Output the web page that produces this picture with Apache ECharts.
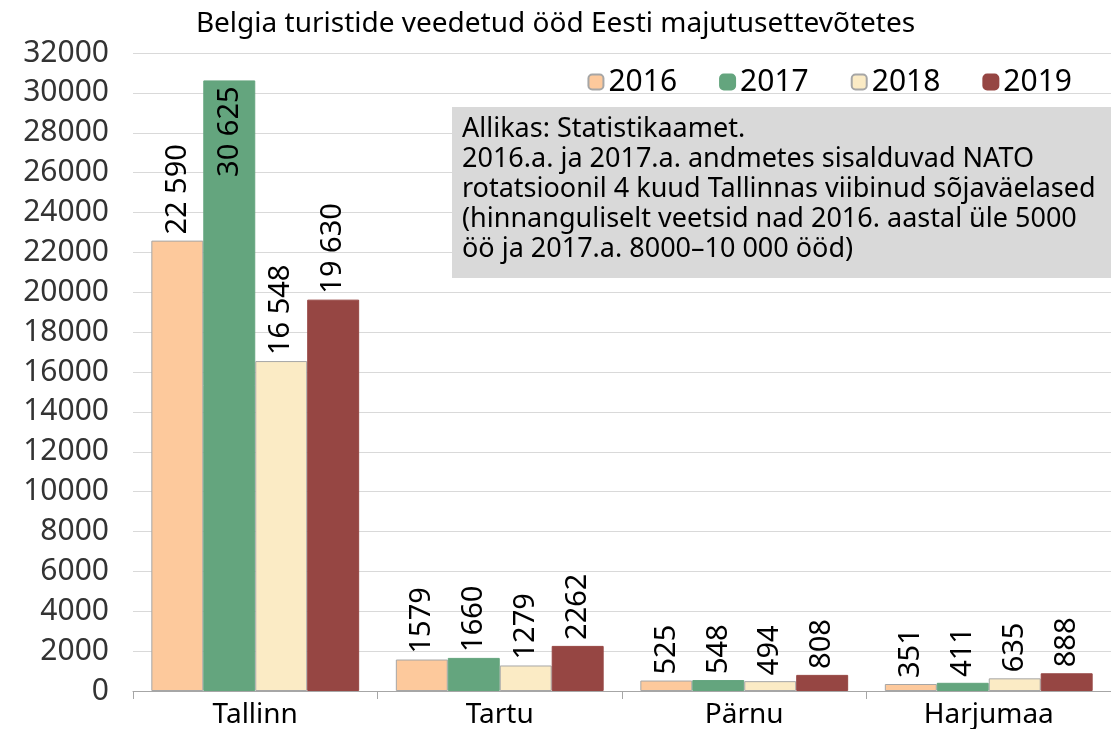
<!DOCTYPE html>
<html>
<head>
<meta charset="utf-8">
<script src="https://cdn.jsdelivr.net/npm/echarts@6/dist/echarts.min.js"></script>
<style>
  html, body { margin: 0; padding: 0; background: #fff; }
  #chart { width: 1111px; height: 729px; }
</style>
</head>
<body>
<div id="chart"></div>
<script>
// andmed
const categories = ['Tallinn', 'Tartu', 'Pärnu', 'Harjumaa'];
const years = ['2016', '2017', '2018', '2019'];
const values2016 = [22590, 1579, 525, 351];
const values2017 = [30625, 1660, 548, 411];
const values2018 = [16548, 1279, 494, 635];
const values2019 = [19630, 2262, 808, 888];
const yTicks = [0, 2000, 4000, 6000, 8000, 10000, 12000, 14000, 16000, 18000, 20000, 22000, 24000, 26000, 28000, 30000, 32000];
const noteLines = [
  'Allikas: Statistikaamet.',
  '2016.a. ja 2017.a. andmetes sisalduvad NATO',
  'rotatsioonil 4 kuud Tallinnas viibinud sõjaväelased',
  '(hinnanguliselt veetsid nad 2016. aastal üle 5000',
  'öö ja 2017.a. 8000–10 000 ööd)'
];

const FONT = '"Noto Sans"';
const colors = ['#fdc99c', '#64a57e', '#fbebc5', '#964643'];
const borders = ['#a6a6a6', '#64a57e', '#a6a6a6', '#964643'];
const allValues = [values2016, values2017, values2018, values2019];

// 10 000+ tuhandete eraldajaga
const fmt = v => v >= 10000 ? String(v).replace(/\B(?=(\d{3})+(?!\d))/g, ' ') : String(v);

const chart = echarts.init(document.getElementById('chart'));

const series = years.map((y, i) => ({
  name: y,
  type: 'bar',
  barGap: '0%',
  barCategoryGap: '15%',
  itemStyle: { color: colors[i], borderColor: borders[i], borderWidth: 1 },
  label: {
    show: true,
    position: 'top',
    rotate: 90,
    align: 'left',
    verticalAlign: 'middle',
    distance: 6,
    fontFamily: FONT,
    fontSize: 29,
    color: '#000',
    formatter: p => fmt(p.value)
  },
  data: allValues[i].map(v => {
    // 30 625 mahub vaid tulba sisse
    if (v > 30000) {
      return { value: v, label: { position: 'insideTop', align: 'right', distance: 6 } };
    }
    return v;
  })
}));

const option = {
  animation: false,
  backgroundColor: '#fff',
  title: {
    text: 'Belgia turistide veedetud ööd Eesti majutusettevõtetes',
    left: 'center',
    top: 5,
    textStyle: { fontFamily: FONT, fontSize: 28, fontWeight: 'normal', color: '#000' }
  },
  legend: {
    data: years,
    right: 34,
    top: 62,
    itemWidth: 15,
    itemHeight: 15,
    itemGap: 42,
    textStyle: { fontFamily: FONT, fontSize: 30, color: '#000' }
  },
  grid: { left: 133, right: 0, top: 53, bottom: 37, containLabel: false },
  xAxis: {
    type: 'category',
    data: categories,
    axisLine: { lineStyle: { color: '#a6a6a6' } },
    axisTick: { show: true, length: 8, lineStyle: { color: '#a6a6a6' } },
    axisLabel: { fontFamily: FONT, fontSize: 28, color: '#000', margin: 10 }
  },
  yAxis: {
    type: 'value',
    min: yTicks[0],
    max: yTicks[yTicks.length - 1],
    interval: 2000,
    axisLine: { show: false },
    axisTick: { show: false },
    splitLine: { lineStyle: { color: '#d9d9d9' } },
    axisLabel: { fontFamily: FONT, fontSize: 30, color: '#333', margin: 24, formatter: v => String(v) }
  },
  graphic: [{
    type: 'group',
    left: 452,
    top: 107,
    z: 100,
    children: [
      { type: 'rect', z: 100, shape: { x: 0, y: 0, width: 659, height: 171 }, style: { fill: '#d9d9d9' } },
      {
        type: 'text',
        z: 101,
        x: 10,
        y: 7,
        style: {
          text: noteLines.join('\n'),
          fontFamily: FONT,
          fontSize: 27,
          lineHeight: 30,
          fill: '#000'
        }
      }
    ]
  }],
  series
};

chart.setOption(option);
</script>
</body>
</html>
